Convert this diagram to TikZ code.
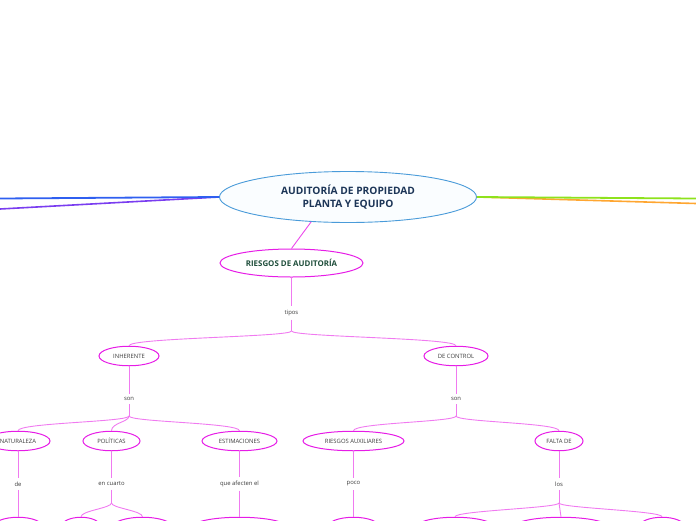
\documentclass[tikz,border=0pt]{standalone}
\usepackage{fontspec}
\setmainfont{Open Sans}
\usepackage{tikz}
\usetikzlibrary{shapes.geometric}
\definecolor{rootblue}{HTML}{4A9BD9}
\definecolor{rootfill}{HTML}{FAFDFF}
\definecolor{titlenavy}{HTML}{1C3557}
\definecolor{topicgreen}{HTML}{1E4D3A}
\definecolor{mapmagenta}{HTML}{E61CE6}
\definecolor{linkpink}{HTML}{F07AF0}
\definecolor{textgray}{HTML}{3C3C3C}
\definecolor{branchblue}{HTML}{2F5FF0}
\definecolor{branchpurple}{HTML}{7A3DF0}
\definecolor{branchgreen}{HTML}{8EE21C}
\definecolor{branchorange}{HTML}{FFA631}

\begin{document}
\begin{tikzpicture}[x=1pt, y=-1pt,
  root/.style={ellipse, draw=rootblue, fill=rootfill, line width=0.9pt, inner sep=0pt,
               minimum width=257pt, minimum height=51pt, align=center, text=titlenavy,
               font=\bfseries\fontsize{10.2}{13.5}\selectfont},
  topic/.style={ellipse, draw=mapmagenta, line width=1pt, inner sep=0pt,
                minimum width=143pt, minimum height=28pt, text=topicgreen,
                font=\bfseries\fontsize{7.9}{8}\selectfont},
  bubble/.style={ellipse, draw=mapmagenta, line width=1pt, inner sep=0pt,
                 minimum height=19.5pt, text=textgray, font=\fontsize{5.9}{6}\selectfont},
  word/.style={text=textgray, inner sep=3.5pt, font=\fontsize{5.9}{6}\selectfont},
  link/.style={draw=linkpink, line width=0.9pt}]
  \useasboundingbox (0,0) rectangle (696,520);
  \clip (0,0) rectangle (696,520);

  % central topic and the main branches
  \node[root] (root) at (348,197) {AUDITORÍA DE PROPIEDAD\\PLANTA Y EQUIPO};
  \coordinate (purpletail) at (0,209);
  \coordinate (bluetail) at (0,198.5);
  \coordinate (orangetail) at (696,203.5);
  \coordinate (greentail) at (696,198.5);
  \draw[branchpurple, line width=1.6pt] (root.west) -- (purpletail);
  \draw[branchblue, line width=1.8pt] (root.west) -- (bluetail);
  \draw[branchorange, line width=1.6pt] (root.east) -- (orangetail);
  \draw[branchgreen, line width=1.8pt] (root.east) -- (greentail);

  % riesgos
  \node[topic] (riesgos) at (291.5,263) {RIESGOS DE AUDITORÍA};
  \draw[link, draw=mapmagenta!80] (root.214) -- (riesgos.north);
  \node[word] (tipos) at (291.5,313) {tipos};
  \coordinate (tiposfork) at (291.5,331);
  \draw[link] (riesgos) -- (tipos) -- (tiposfork);

  \node[bubble, minimum width=60pt] (inherente) at (129,356) {INHERENTE};
  \node[bubble, minimum width=64pt] (decontrol) at (456,356) {DE CONTROL};
  \draw[link] (tiposfork) .. controls +(0,6) and +(0,-8) .. (inherente.north);
  \draw[link] (tiposfork) .. controls +(0,6) and +(0,-8) .. (decontrol.north);

  % inherente
  \node[word] (soninh) at (129,399) {son};
  \coordinate (soninhfork) at (129,416);
  \draw[link] (inherente) -- (soninh) -- (soninhfork);
  \node[bubble, minimum width=64pt] (naturaleza) at (18,441) {NATURALEZA};
  \node[bubble, minimum width=57pt] (politicas) at (111.5,441) {POLÍTICAS};
  \node[bubble, minimum width=75pt] (estimaciones) at (239.5,441) {ESTIMACIONES};
  \draw[link] (soninhfork) .. controls +(0,6) and +(0,-8) .. (naturaleza.north);
  \draw[link] (soninhfork) .. controls +(0,6) and +(0,-8) .. (politicas.north);
  \draw[link] (soninhfork) .. controls +(0,6) and +(0,-8) .. (estimaciones.north);

  % de control
  \node[word] (soncon) at (456,399) {son};
  \coordinate (sonconfork) at (456,416);
  \draw[link] (decontrol) -- (soncon) -- (sonconfork);
  \node[bubble, minimum width=101pt] (auxiliares) at (353.5,441) {RIESGOS AUXILIARES};
  \node[bubble, minimum width=48pt] (faltade) at (559,441) {FALTA DE};
  \draw[link] (sonconfork) .. controls +(0,6) and +(0,-8) .. (auxiliares.north);
  \draw[link] (sonconfork) .. controls +(0,6) and +(0,-8) .. (faltade.north);

  % third level
  \node[word] (de) at (18,484) {de};
  \node[word] (encuarto) at (111.5,484) {en cuarto};
  \node[word] (afecten) at (239.5,484) {que afecten el};
  \node[word] (poco) at (353.5,484) {poco};
  \node[word] (los) at (559,484) {los};
  \draw[link] (naturaleza) -- (de);
  \draw[link] (politicas) -- (encuarto);
  \draw[link] (estimaciones) -- (afecten);
  \draw[link] (auxiliares) -- (poco);
  \draw[link] (faltade) -- (los);

  % fourth level, cut by the page edge
  \node[bubble, minimum width=50pt] (natchild) at (18,527) {};
  \node[bubble, minimum width=40pt] (polchilda) at (81,527) {};
  \node[bubble, minimum width=60pt] (polchildb) at (142.5,527) {};
  \node[bubble, minimum width=95pt] (estchild) at (239.5,527) {};
  \node[bubble, minimum width=52pt] (pocochild) at (353.5,527) {};
  \node[bubble, minimum width=78pt] (loschilda) at (455,527) {};
  \node[bubble, minimum width=95pt] (loschildb) at (561,527) {};
  \node[bubble, minimum width=46pt] (loschildc) at (662,527) {};
  \draw[link] (de) -- (natchild);
  \draw[link] (afecten) -- (estchild);
  \draw[link] (poco) -- (pocochild);
  \coordinate (encuartofork) at (111.5,503);
  \draw[link] (encuarto) -- (encuartofork);
  \draw[link] (encuartofork) .. controls +(0,5) and +(0,-6) .. (polchilda.north);
  \draw[link] (encuartofork) .. controls +(0,5) and +(0,-6) .. (polchildb.north);
  \coordinate (losfork) at (559,503);
  \draw[link] (los) -- (losfork);
  \draw[link] (losfork) .. controls +(0,5) and +(0,-6) .. (loschilda.north);
  \draw[link] (losfork) -- (loschildb.north);
  \draw[link] (losfork) .. controls +(0,5) and +(0,-6) .. (loschildc.north);
\end{tikzpicture}
\end{document}
